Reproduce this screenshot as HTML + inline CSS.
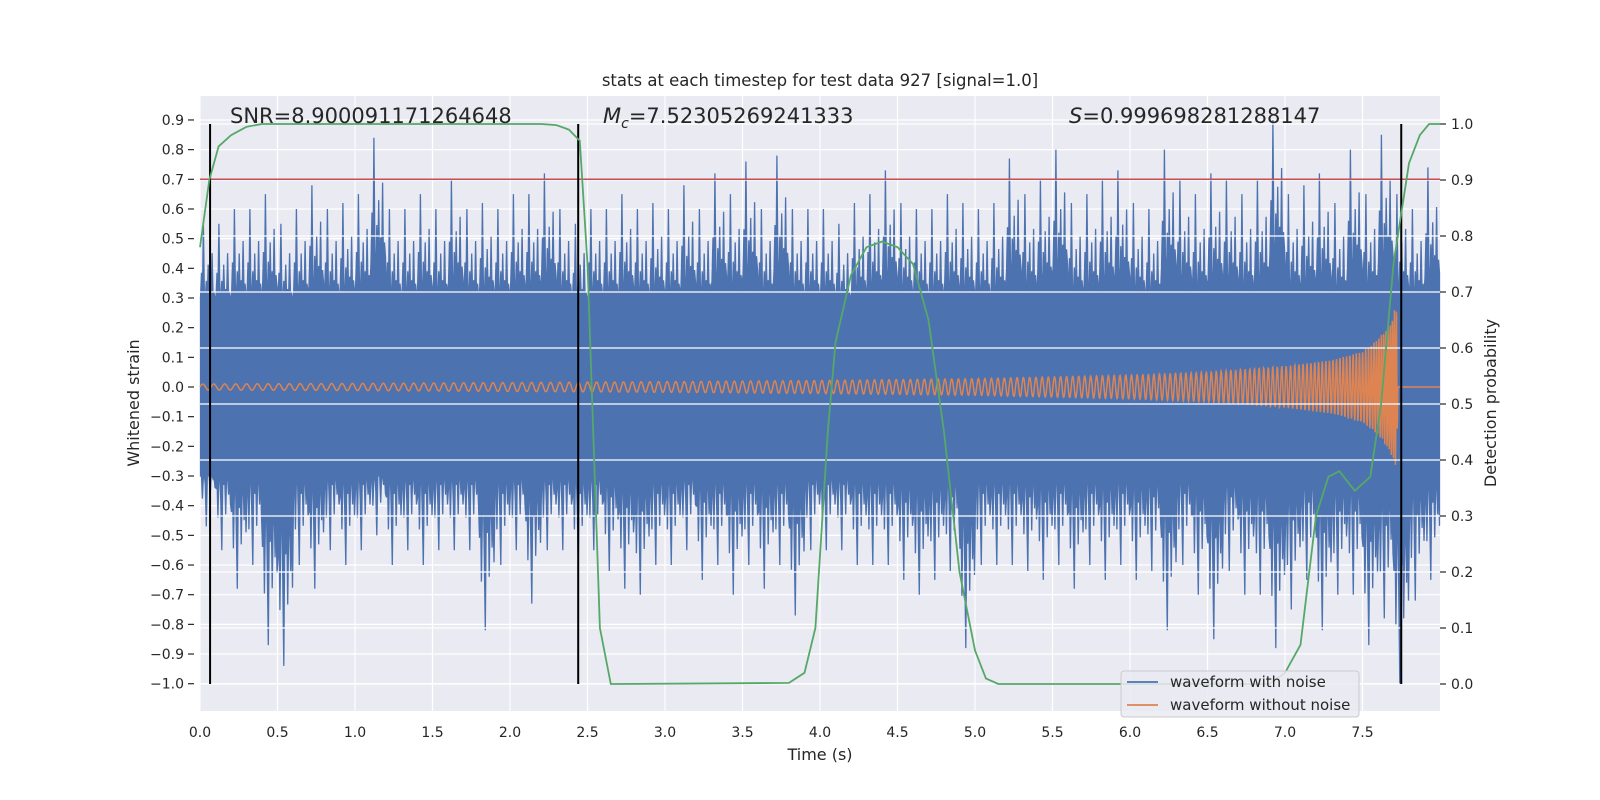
<!DOCTYPE html>
<html><head><meta charset="utf-8"><style>
html,body{margin:0;padding:0;background:#fff;}
svg{display:block;font-family:"DejaVu Sans","Liberation Sans",sans-serif;}
</style></head><body>
<svg id="chart" width="1600" height="800" viewBox="0 0 1600 800" xmlns="http://www.w3.org/2000/svg"></svg>
<script>
const xTicks=[0,0.5,1,1.5,2,2.5,3,3.5,4,4.5,5,5.5,6,6.5,7,7.5];
const xTickLabels=["0.0","0.5","1.0","1.5","2.0","2.5","3.0","3.5","4.0","4.5","5.0","5.5","6.0","6.5","7.0","7.5"];
const yLeftTicks=[-1.0,-0.9,-0.8,-0.7,-0.6,-0.5,-0.4,-0.3,-0.2,-0.1,0,0.1,0.2,0.3,0.4,0.5,0.6,0.7,0.8,0.9];
const yRightTicks=[0,0.1,0.2,0.3,0.4,0.5,0.6,0.7,0.8,0.9,1.0];
const noiseUpper=[0.55,0.55,0.6,0.6,0.65,0.55,0.6,0.68,0.6,0.62,
0.65,0.84,0.6,0.6,0.65,0.6,0.7,0.6,0.62,0.6,
0.65,0.65,0.72,0.6,0.55,0.6,0.6,0.65,0.6,0.62,
0.6,0.68,0.6,0.72,0.65,0.76,0.6,0.78,0.6,0.6,
0.6,0.55,0.62,0.65,0.73,0.62,0.6,0.6,0.65,0.62,
0.6,0.62,0.77,0.65,0.7,0.8,0.62,0.65,0.7,0.73,
0.62,0.6,0.8,0.7,0.65,0.72,0.7,0.65,0.7,0.9,
0.65,0.68,0.72,0.62,0.8,0.65,0.85,0.65,0.6,0.74];
const noiseLower=[-0.47,-0.55,-0.68,-0.6,-0.87,-0.94,-0.6,-0.68,-0.55,-0.6,
-0.55,-0.5,-0.6,-0.55,-0.6,-0.55,-0.55,-0.55,-0.82,-0.6,
-0.55,-0.73,-0.55,-0.55,-0.6,-0.55,-0.62,-0.68,-0.7,-0.6,
-0.6,-0.55,-0.65,-0.6,-0.7,-0.6,-0.68,-0.6,-0.77,-0.55,
-0.55,-0.55,-0.6,-0.6,-0.6,-0.65,-0.7,-0.65,-0.62,-0.88,
-0.6,-0.6,-0.6,-0.62,-0.65,-0.6,-0.68,-0.6,-0.65,-0.6,
-0.65,-0.62,-0.82,-0.6,-0.7,-0.85,-0.62,-0.7,-0.7,-0.88,
-0.75,-0.65,-0.82,-0.7,-0.7,-0.87,-0.78,-1.0,-0.72,-0.65];
const ampT=[0,1,2,3,4,5,6,6.5,7,7.3,7.5,7.6,7.68,7.72,7.73,8];
const ampV=[0.01,0.012,0.015,0.018,0.022,0.028,0.04,0.05,0.07,0.09,0.12,0.16,0.22,0.28,0,0];
const freqT=[0,2,4,6,7,7.5,7.73,8];
const freqV=[14,16,20,27,35,50,80,80];
const probT=[0,0.06,0.12,0.2,0.3,0.4,2.2,2.3,2.38,2.45,2.5,2.58,2.65,3.8,3.9,3.97,4.05,4.1,4.2,4.3,4.4,4.5,4.6,4.7,4.8,4.9,5.0,5.07,5.15,6.9,7.0,7.1,7.2,7.28,7.35,7.45,7.55,7.62,7.7,7.8,7.87,7.93,8.0];
const probV=[0.78,0.9,0.96,0.98,0.995,1.0,1.0,0.998,0.99,0.97,0.75,0.1,0.0,0.002,0.02,0.1,0.45,0.61,0.73,0.78,0.79,0.78,0.75,0.65,0.45,0.2,0.06,0.01,0.0,0.0,0.02,0.07,0.3,0.37,0.38,0.345,0.37,0.5,0.75,0.93,0.98,1.0,1.0];
const markerTimes=[0.065,2.44,7.75];
const thresholdValue=0.7;

const AX={l:200,r:1440,t:96,b:711};
const xS=t=>AX.l+(t/8)*(AX.r-AX.l);
const yL=v=>387-v*296.7;
const yR=p=>684-p*560;
const svg=document.getElementById('chart');
const NS='http://www.w3.org/2000/svg';
function mk(tag,attrs,parent){const e=document.createElementNS(NS,tag);for(const k in attrs)e.setAttribute(k,attrs[k]);(parent||svg).appendChild(e);return e;}
function interp(T,V,t){if(t<=T[0])return V[0];for(let i=1;i<T.length;i++){if(t<=T[i]){const f=(t-T[i-1])/(T[i]-T[i-1]);return V[i-1]+f*(V[i]-V[i-1]);}}return V[V.length-1];}

let e=mk('text',{x:820,y:86,'text-anchor':'middle','font-size':16.5,fill:'#262626'});


e.textContent='stats at each timestep for test data 927 [signal=1.0]';
e=mk('rect',{x:AX.l,y:AX.t,width:AX.r-AX.l,height:AX.b-AX.t,fill:'#eaeaf2'});


const gL=mk('g',{stroke:'#fff','stroke-width':1.2});


xTicks.forEach(t=>mk('line',{x1:xS(t),x2:xS(t),y1:AX.t,y2:AX.b},gL));
yLeftTicks.forEach(v=>mk('line',{x1:AX.l,x2:AX.r,y1:yL(v),y2:yL(v)},gL));
const fac=[0.5,0.7,0.45,1.0,0.55,0.42,0.65,0.5,0.75,0.46,0.6,0.48,0.82,0.44,0.58,0.52];
const facL=[0.62,0.48,0.8,0.52,0.44,0.7,1.0,0.5,0.6,0.46,0.78,0.54,0.45,0.66,0.5,0.72];
const topPts=[],botPts=[];
const sub=fac.length;
for(let i=0;i<noiseUpper.length;i++){
  for(let j=0;j<sub;j++){
    const t=(i+(j+0.5)/sub)*0.1;
    const u=Math.max(0.3,noiseUpper[i]*fac[j]);
    const l=Math.min(-0.3,noiseLower[i]*facL[j]);
    topPts.push(xS(t).toFixed(1)+','+yL(u).toFixed(1));
    botPts.unshift(xS(t).toFixed(1)+','+yL(l).toFixed(1));
  }
}
e=mk('polygon',{points:topPts.concat(botPts).join(' '),fill:'#4c72b0',stroke:'#4c72b0','stroke-width':1.3});


let ph=0;const opts=[];const dt=0.002;
for(let t=0;t<=8.0001;t+=dt){
  const a=interp(ampT,ampV,t);
  opts.push(xS(t).toFixed(1)+','+yL(a*Math.sin(ph)).toFixed(1));
  ph+=2*Math.PI*interp(freqT,freqV,t)*dt;
}
e=mk('polyline',{points:opts.join(' '),fill:'none',stroke:'#dd8452','stroke-width':1.5});


const gR=mk('g',{stroke:'#fff','stroke-width':1.2});


yRightTicks.forEach(p=>mk('line',{x1:AX.l,x2:AX.r,y1:yR(p),y2:yR(p)},gR));
e=mk('line',{x1:AX.l,x2:AX.r,y1:yL(thresholdValue),y2:yL(thresholdValue),stroke:'#c44e52','stroke-width':1.5});


markerTimes.forEach((t,i)=>{
  const m=mk('line',{x1:xS(t),x2:xS(t),y1:yR(1),y2:yR(0),stroke:'#000','stroke-width':2});
  
  
});
e=mk('polyline',{points:probT.map((t,i)=>xS(t).toFixed(1)+','+yR(probV[i]).toFixed(1)).join(' '),fill:'none',stroke:'#55a868','stroke-width':1.8});


const annNames=['snr-label','chirp-mass-label','score-label'];
[['SNR=8.900091171264648',230,null],['=7.52305269241333',603,'M'],['=0.999698281288147',1069,'S']].forEach((a,i)=>{
  const tx=mk('text',{x:a[1],y:123,'font-size':21,fill:'#262626'});
  
  
  if(a[2]){const s=mk('tspan',{'font-style':'italic'},tx);s.textContent=a[2];
    if(a[2]==='M'){const c=mk('tspan',{'font-style':'italic','font-size':14,dy:5},tx);c.textContent='c';const r=mk('tspan',{dy:-5},tx);r.textContent=a[0];}
    else{const r=mk('tspan',{},tx);r.textContent=a[0];}}
  else tx.textContent=a[0];
});
const gx=mk('g',{'font-size':14,fill:'#262626','text-anchor':'middle'});


xTicks.forEach((t,i)=>{const l=mk('text',{x:xS(t),y:737},gx);l.textContent=xTickLabels[i];});
const gy=mk('g',{'font-size':14,fill:'#262626','text-anchor':'end'});


yLeftTicks.forEach(v=>{const l=mk('text',{x:184,y:yL(v)+5},gy);l.textContent=(v<0?'\u2212':'')+Math.abs(v).toFixed(1);
  mk('line',{x1:188,x2:194,y1:yL(v),y2:yL(v),stroke:'#262626','stroke-width':1.2},gy);});
const gr=mk('g',{'font-size':14,fill:'#262626','text-anchor':'start'});


yRightTicks.forEach(p=>{const l=mk('text',{x:1451,y:yR(p)+5},gr);l.textContent=p.toFixed(1);
  mk('line',{x1:1440,x2:1446,y1:yR(p),y2:yR(p),stroke:'#262626','stroke-width':1.2},gr);});
e=mk('text',{x:820,y:760,'font-size':16,fill:'#262626','text-anchor':'middle'});


e.textContent='Time (s)';
e=mk('text',{x:0,y:0,'font-size':16,fill:'#262626','text-anchor':'middle',transform:'translate(139,403) rotate(-90)'});


e.textContent='Whitened strain';
e=mk('text',{x:0,y:0,'font-size':16,fill:'#262626','text-anchor':'middle',transform:'translate(1496,403) rotate(-90)'});


e.textContent='Detection probability';
const lg=mk('g',{});


mk('rect',{x:1121,y:671,width:238,height:46,rx:3,fill:'#eaeaf2','fill-opacity':0.85,stroke:'#cccccc'},lg);
[['waveform with noise','#4c72b0',682],['waveform without noise','#dd8452',705]].forEach((it,i)=>{
  const en=mk('g',{},lg);
  
  
  mk('line',{x1:1127,x2:1158,y1:it[2],y2:it[2],stroke:it[1],'stroke-width':1.8},en);
  const t=mk('text',{x:1170,y:it[2]+5,'font-size':15,fill:'#262626'},en);t.textContent=it[0];
});
</script>
</body></html>
